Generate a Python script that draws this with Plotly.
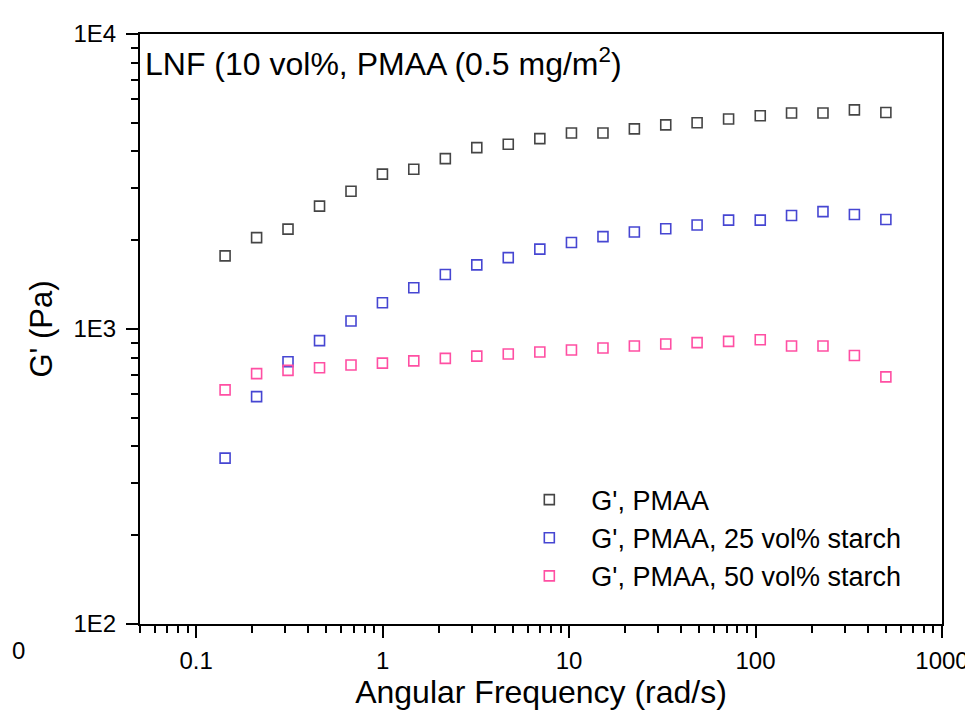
import plotly.graph_objects as go

# angular frequency (rad/s)
freq = [0.143, 0.211, 0.311, 0.459, 0.677, 0.998, 1.47, 2.17, 3.20, 4.72, 6.97,
        10.3, 15.2, 22.4, 33.0, 48.6, 71.7, 106, 156, 230, 339, 500]

# storage modulus G' (Pa)
g_pmaa = [1770, 2040, 2180, 2610, 2930, 3350, 3480, 3780, 4120, 4230, 4420,
          4620, 4620, 4770, 4920, 5000, 5150, 5280, 5400, 5400, 5530, 5420]
g_pmaa_25 = [365, 590, 774, 913, 1065, 1227, 1380, 1531, 1649, 1746, 1865,
             1964, 2057, 2133, 2188, 2251, 2340, 2340, 2424, 2500, 2443, 2351]
g_pmaa_50 = [622, 706, 724, 739, 755, 766, 780, 795, 809, 823, 836,
             849, 862, 876, 890, 899, 908, 920, 876, 876, 813, 688]

series_names = ["G', PMAA", "G', PMAA, 25 vol% starch", "G', PMAA, 50 vol% starch"]
series_colors = ["#454545", "#4646d2", "#ff4fa3"]

y_tickvals = [100, 1000, 10000]
y_ticktext = ["1E2", "1E3", "1E4"]
x_tickvals = [0.1, 1, 10, 100, 1000]
x_ticktext = ["0.1", "1", "10", "100", "1000"]

FONT = "Liberation Sans, Arial, sans-serif"

fig = go.Figure()
for name, ys, col in zip(series_names, [g_pmaa, g_pmaa_25, g_pmaa_50], series_colors):
    fig.add_trace(go.Scatter(
        x=freq, y=ys, name=name, mode="markers",
        marker=dict(symbol="square-open", size=10, color=col, line=dict(width=1.6, color=col)),
    ))

axis_common = dict(
    showgrid=False, zeroline=False, showline=True, linecolor="black", linewidth=2,
    mirror=True, ticks="outside", ticklen=12, tickwidth=1.5, tickcolor="black",
    tickfont=dict(family=FONT, size=24, color="black"),
)

fig.update_xaxes(
    type="log", range=[-1.301, 3], tickmode="array", tickvals=x_tickvals, ticktext=x_ticktext,
    minor=dict(ticks="outside", ticklen=7, tickwidth=1.5, tickcolor="black", dtick="D1"),
    ticklabelstandoff=2,
    title=dict(text="Angular Frequency (rad/s)", font=dict(family=FONT, size=32, color="black"), standoff=8),
    **axis_common,
)
fig.update_yaxes(
    type="log", range=[2, 4], tickmode="array", tickvals=y_tickvals, ticktext=y_ticktext,
    minor=dict(ticks="outside", ticklen=7, tickwidth=1.5, tickcolor="black", dtick="D1"),
    ticklabelstandoff=5,
    title=dict(text="G' (Pa)", font=dict(family=FONT, size=31, color="black"), standoff=12),
    **axis_common,
)

fig.add_annotation(
    text="LNF (10 vol%, PMAA (0.5 mg/m<sup>2</sup>)", xref="paper", yref="paper",
    x=0.004, y=0.952, xanchor="left", yanchor="middle", showarrow=False,
    font=dict(family=FONT, size=32, color="black"),
)
fig.add_annotation(
    text="0", xref="paper", yref="paper", x=-0.162, y=-0.045, xanchor="left", yanchor="middle",
    showarrow=False, font=dict(family=FONT, size=24, color="black"),
)

fig.update_layout(
    width=973, height=714, margin=dict(l=132, r=34, t=19, b=98),
    paper_bgcolor="white", plot_bgcolor="white",
    font=dict(family=FONT, color="black"),
    legend=dict(x=0.458, y=0.2515, xanchor="left", yanchor="top", itemwidth=74,
                font=dict(family=FONT, size=27, color="black"), bgcolor="rgba(0,0,0,0)",
                tracegroupgap=0),
    showlegend=True,
)

fig.write_html("out.html")
